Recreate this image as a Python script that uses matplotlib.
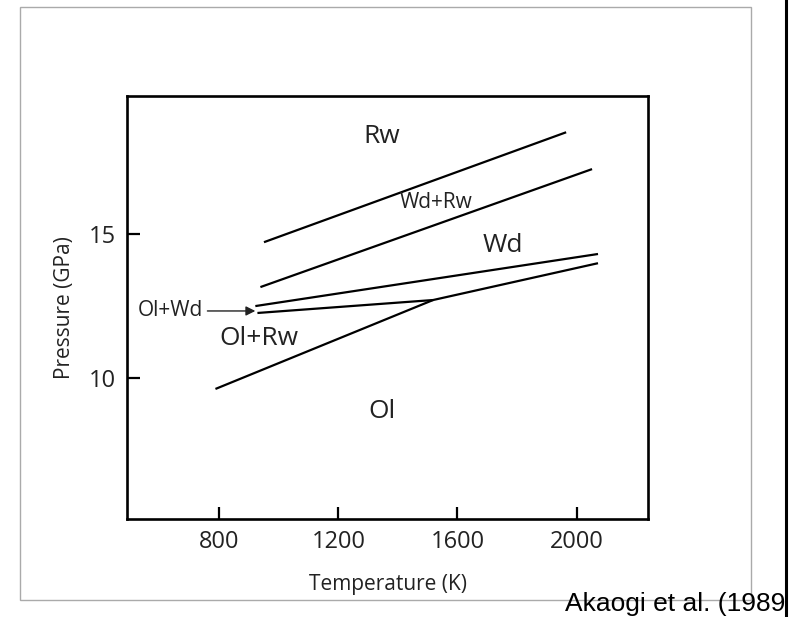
import matplotlib.pyplot as plt
from matplotlib.patches import Rectangle
from matplotlib.lines import Line2D

# Phasengrenzen (Temperatur in K, Druck in GPa)
rw_upper_T = [950, 1965]
rw_upper_P = [14.72, 18.54]

rw_lower_T = [938, 2052]
rw_lower_P = [13.16, 17.26]

wd_upper_T = [921, 2072]
wd_upper_P = [12.50, 14.31]

olwd_lower_T = [928, 1518, 2072]
olwd_lower_P = [12.26, 12.71, 13.99]

ol_rw_T = [787, 1518]
ol_rw_P = [9.62, 12.71]

# Feldbeschriftungen
field_labels = ['Rw', 'Wd+Rw', 'Wd', 'Ol+Rw', 'Ol']
field_T = [1344, 1528, 1753, 934, 1347]
field_P = [18.4, 16.11, 14.62, 11.39, 8.82]
field_size = [19, 15, 19, 19, 19]

# Pfeil fuer Ol+Wd
arrow_T = [760, 921]
arrow_P = 12.33

x_ticks = [800, 1200, 1600, 2000]
y_ticks = [10, 15]

plt.rcParams['font.family'] = ['Open Sans', 'DejaVu Sans']

fig = plt.figure(figsize=(8.07, 6.17), dpi=100)
ax = fig.add_axes([0.1574, 0.1588, 0.8030 - 0.1574, 0.8444 - 0.1588])

# Linien
for T, P in [(rw_upper_T, rw_upper_P), (rw_lower_T, rw_lower_P),
             (wd_upper_T, wd_upper_P), (olwd_lower_T, olwd_lower_P),
             (ol_rw_T, ol_rw_P)]:
    ax.plot(T, P, color='black', lw=1.6, solid_capstyle='butt')

for lab, t, p, s in zip(field_labels, field_T, field_P, field_size):
    ax.text(t, p, lab, ha='center', va='center', fontsize=s, color='#222222')

ax.annotate('', xy=(arrow_T[1], arrow_P), xytext=(arrow_T[0], arrow_P),
            arrowprops=dict(arrowstyle='-|>', color='#222222', lw=1.0,
                            mutation_scale=14, shrinkA=0, shrinkB=0))
ax.text(arrow_T[0] - 14, arrow_P, 'Ol+Wd', ha='right', va='center',
        fontsize=15, color='#222222')

ax.set_xlim(490, 2240)
ax.set_ylim(5.1, 19.8)
ax.set_xticks(x_ticks)
ax.set_yticks(y_ticks)
ax.tick_params(direction='in', length=9, width=1.6, labelsize=17,
               colors='black', labelcolor='#222222', pad=8)
for sp in ax.spines.values():
    sp.set_linewidth(1.9)
ax.set_xlabel('Temperature (K)', fontsize=15, color='#222222', labelpad=14)
ax.set_ylabel('Pressure (GPa)', fontsize=15, color='#222222', labelpad=10)

# grauer Rahmen und schwarze Linie rechts
fig.patches.append(Rectangle((20 / 807, 1 - 600 / 617), (751 - 20) / 807, (600 - 7) / 617,
                             transform=fig.transFigure, fill=False,
                             edgecolor='#aaaaaa', lw=1.0))
fig.lines.append(Line2D([786 / 807, 786 / 807], [0, 1], transform=fig.transFigure,
                        color='black', lw=2.2))

fig.text(785 / 807, 6 / 617, 'Akaogi et al. (1989', family='Liberation Sans',
         fontsize=19, ha='right', va='baseline', color='black')

fig.savefig('out.png', dpi=100)
